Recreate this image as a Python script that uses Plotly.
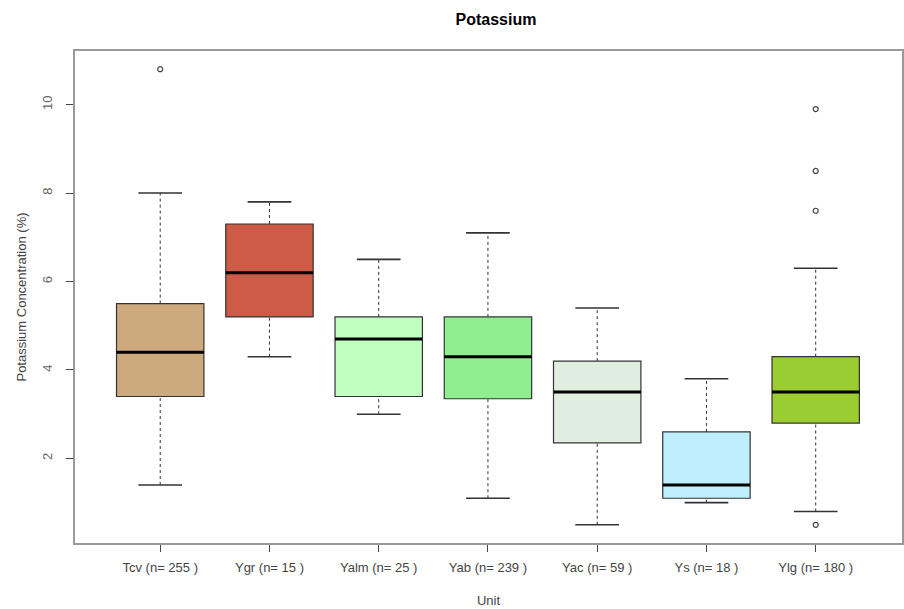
import plotly.graph_objects as go

# Unit groups and their potassium summary statistics (%)
units = ["Tcv", "Ygr", "Yalm", "Yab", "Yac", "Ys", "Ylg"]
counts = [255, 15, 25, 239, 59, 18, 180]
lower_whisker = [1.4, 4.3, 3.0, 1.1, 0.5, 1.0, 0.8]
q1 = [3.4, 5.2, 3.4, 3.35, 2.35, 1.1, 2.8]
median = [4.4, 6.2, 4.7, 4.3, 3.5, 1.4, 3.5]
q3 = [5.5, 7.3, 5.2, 5.2, 4.2, 2.6, 4.3]
upper_whisker = [8.0, 7.8, 6.5, 7.1, 5.4, 3.8, 6.3]
fill_colors = ["#CDAA7D", "#CD5B45", "#C1FFC1", "#90EE90", "#E0EEE0", "#BFEFFF", "#9ACD32"]

# Outlying observations: (unit index, value)
outlier_unit = [0, 6, 6, 6, 6]
outlier_value = [10.8, 9.9, 8.5, 7.6, 0.5]

tick_labels = [f"{u} (n= {n} )" for u, n in zip(units, counts)]
positions = list(range(1, len(units) + 1))

BOX_W = 0.8
CAP_W = 0.4
EDGE = "#333333"

fig = go.Figure()

# Dashed whiskers (drawn first so boxes sit on top)
wx, wy = [], []
for p, lo, a, b, hi in zip(positions, lower_whisker, q1, q3, upper_whisker):
    wx += [p, p, None, p, p, None]
    wy += [lo, a, None, b, hi, None]
fig.add_trace(go.Scatter(x=wx, y=wy, mode="lines",
                         line=dict(color=EDGE, width=1, dash="3px,3px"),
                         hoverinfo="skip", showlegend=False))

# Whisker caps
cx, cy = [], []
for p, lo, hi in zip(positions, lower_whisker, upper_whisker):
    cx += [p - CAP_W / 2, p + CAP_W / 2, None, p - CAP_W / 2, p + CAP_W / 2, None]
    cy += [lo, lo, None, hi, hi, None]
fig.add_trace(go.Scatter(x=cx, y=cy, mode="lines",
                         line=dict(color=EDGE, width=1.6),
                         hoverinfo="skip", showlegend=False))

# Boxes from precomputed quartiles
for p, a, m, b, col in zip(positions, q1, median, q3, fill_colors):
    fig.add_trace(go.Box(x=[p], q1=[a], median=[m], q3=[b],
                         lowerfence=[a], upperfence=[b],
                         width=BOX_W, whiskerwidth=0,
                         fillcolor=col, line=dict(color=EDGE, width=1.2),
                         boxpoints=False, showlegend=False))

# Thick median bars
mx, my = [], []
for p, m in zip(positions, median):
    mx += [p - BOX_W / 2, p + BOX_W / 2, None]
    my += [m, m, None]
fig.add_trace(go.Scatter(x=mx, y=my, mode="lines",
                         line=dict(color="black", width=3),
                         hoverinfo="skip", showlegend=False))

# Outliers as open circles
fig.add_trace(go.Scatter(x=[positions[i] for i in outlier_unit], y=outlier_value,
                         mode="markers",
                         marker=dict(symbol="circle-open", size=5,
                                     color="#444444", line=dict(width=1.2)),
                         hoverinfo="skip", showlegend=False))

FONT = "Liberation Sans, Arial, sans-serif"

fig.update_layout(
    width=904, height=609,
    margin=dict(l=75, r=0, t=51, b=66),
    paper_bgcolor="white", plot_bgcolor="white",
    font=dict(family=FONT, size=13, color="#444444"),
    title=dict(text="<b>Potassium</b>", x=496 / 904, xanchor="center",
               y=1 - 19 / 609, yanchor="middle",
               font=dict(family=FONT, size=16, color="black")),
    showlegend=False,
    xaxis=dict(range=[0.22, 7.79], tickmode="array", tickvals=positions,
               ticktext=tick_labels, ticks="outside", ticklen=7,
               tickcolor="#444444", showgrid=False, zeroline=False,
               showline=True, linecolor="#999999", linewidth=1.5, mirror=True,
               ticklabelstandoff=5,
               tickfont=dict(size=13, color="#444444"),
               title=dict(text="Unit", standoff=22,
                          font=dict(size=13, color="#444444"))),
    yaxis=dict(range=[0.088, 11.212], tickvals=[2, 4, 6, 8, 10],
               ticks="outside", ticklen=7, tickcolor="#444444",
               tickangle=-90, showgrid=False, zeroline=False,
               showline=True, linecolor="#999999", linewidth=1.5, mirror=True,
               ticklabelstandoff=9,
               tickfont=dict(size=13, color="#666666"),
               title=dict(text="Potassium Concentration (%)", standoff=10,
                          font=dict(size=13, color="#444444"))),
)

fig.write_html("out.html")
